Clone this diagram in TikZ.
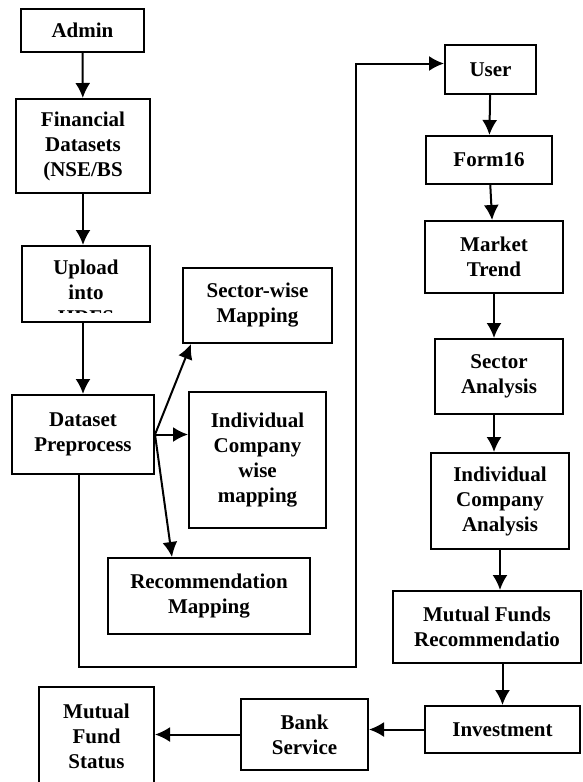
\documentclass[tikz,border=0pt]{standalone}
\usepackage{fontspec}
\setmainfont{Liberation Serif}
\usepackage{tikz}
\usetikzlibrary{arrows.meta}

\begin{document}
\begin{tikzpicture}[x=1pt,y=-1pt,line width=2pt,
 box/.style={draw,line width=2pt,align=center,inner sep=0pt,font=\fontsize{21}{25}\selectfont\bfseries},
 flow/.style={-{Latex[length=15pt,width=15pt]}}]
\clip (0,0) rectangle (582,782);
\fill[white] (0,0) rectangle (582,782);

% admin side
\node[box,minimum width=123pt,minimum height=43pt] (admin) at (82.5,30.5) {Admin};
\node[box,minimum width=134pt,minimum height=94pt] (fin) at (83,146) {Financial\\Datasets\\(NSE/BS};
\node[box,minimum width=128pt,minimum height=76pt] (upload) at (86,284) {};
\begin{scope}
\clip (22,246) rectangle (150,312);
\node[box,draw=none,anchor=north] (uploadtxt) at (86,259) {Upload\\into\\HDFS};
\end{scope}
\node[box,minimum width=142pt,minimum height=79pt] (dataset) at (83,434.5) {Dataset\\Preprocess};
\node[box,minimum width=149pt,minimum height=75pt] (sectorw) at (257.5,305.5) {Sector-wise\\Mapping};
\node[box,minimum width=137pt,minimum height=136pt] (indmap) at (257.5,460) {Individual\\Company\\wise\\mapping};
\node[box,minimum width=202pt,minimum height=76pt] (recmap) at (209,596) {Recommendation\\Mapping};

% user side
\node[box,minimum width=91pt,minimum height=49pt] (user) at (490.5,69.5) {User};
\node[box,minimum width=126pt,minimum height=48pt] (form16) at (489,160) {Form16};
\node[box,minimum width=138pt,minimum height=72pt] (market) at (494,257) {Market\\Trend};
\node[box,minimum width=128pt,minimum height=75pt] (sector) at (499,376.5) {Sector\\Analysis};
\node[box,minimum width=138pt,minimum height=96pt] (ica) at (500,501) {Individual\\Company\\Analysis};
\node[box,minimum width=188pt,minimum height=72pt] (mfrec) at (487,627) {Mutual Funds\\Recommendatio};
\node[box,minimum width=155pt,minimum height=47pt] (invest) at (502.5,729.5) {Investment};
\node[box,minimum width=127pt,minimum height=71pt] (bank) at (304.5,734.5) {Bank\\Service};
\node[box,minimum width=115pt,minimum height=98pt] (mfs) at (96.5,736) {Mutual\\Fund\\Status};

\coordinate (fbturn) at (356,667);

\draw[flow] (admin) -- (fin);
\draw[flow] (fin.south) -- (fin.south |- upload.north);
\draw[flow] (dataset.north |- upload.south) -- (dataset.north);
\draw[flow] (dataset.east) -- ([xshift=9pt]sectorw.south west);
\draw[flow] (dataset.east) -- (dataset.east -| indmap.west);
\draw[flow] (dataset.east) -- ([xshift=65pt]recmap.north west);
\draw[flow] ([xshift=-4pt]dataset.south) |- (fbturn) |- ([yshift=6pt]user.west);

\draw[flow] (user) -- (form16);
\draw[flow] (form16) -- (market);
\draw[flow] (market.south) -- (market.south |- sector.north);
\draw[flow] (market.south |- sector.south) -- (market.south |- ica.north);
\draw[flow] (ica.south) -- (ica.south |- mfrec.north);
\draw[flow] (invest.north |- mfrec.south) -- (invest.north);
\draw[flow] (invest.west) -- (invest.west -| bank.east);
\draw[flow] (bank.west) -- (bank.west -| mfs.east);
\end{tikzpicture}
\end{document}
